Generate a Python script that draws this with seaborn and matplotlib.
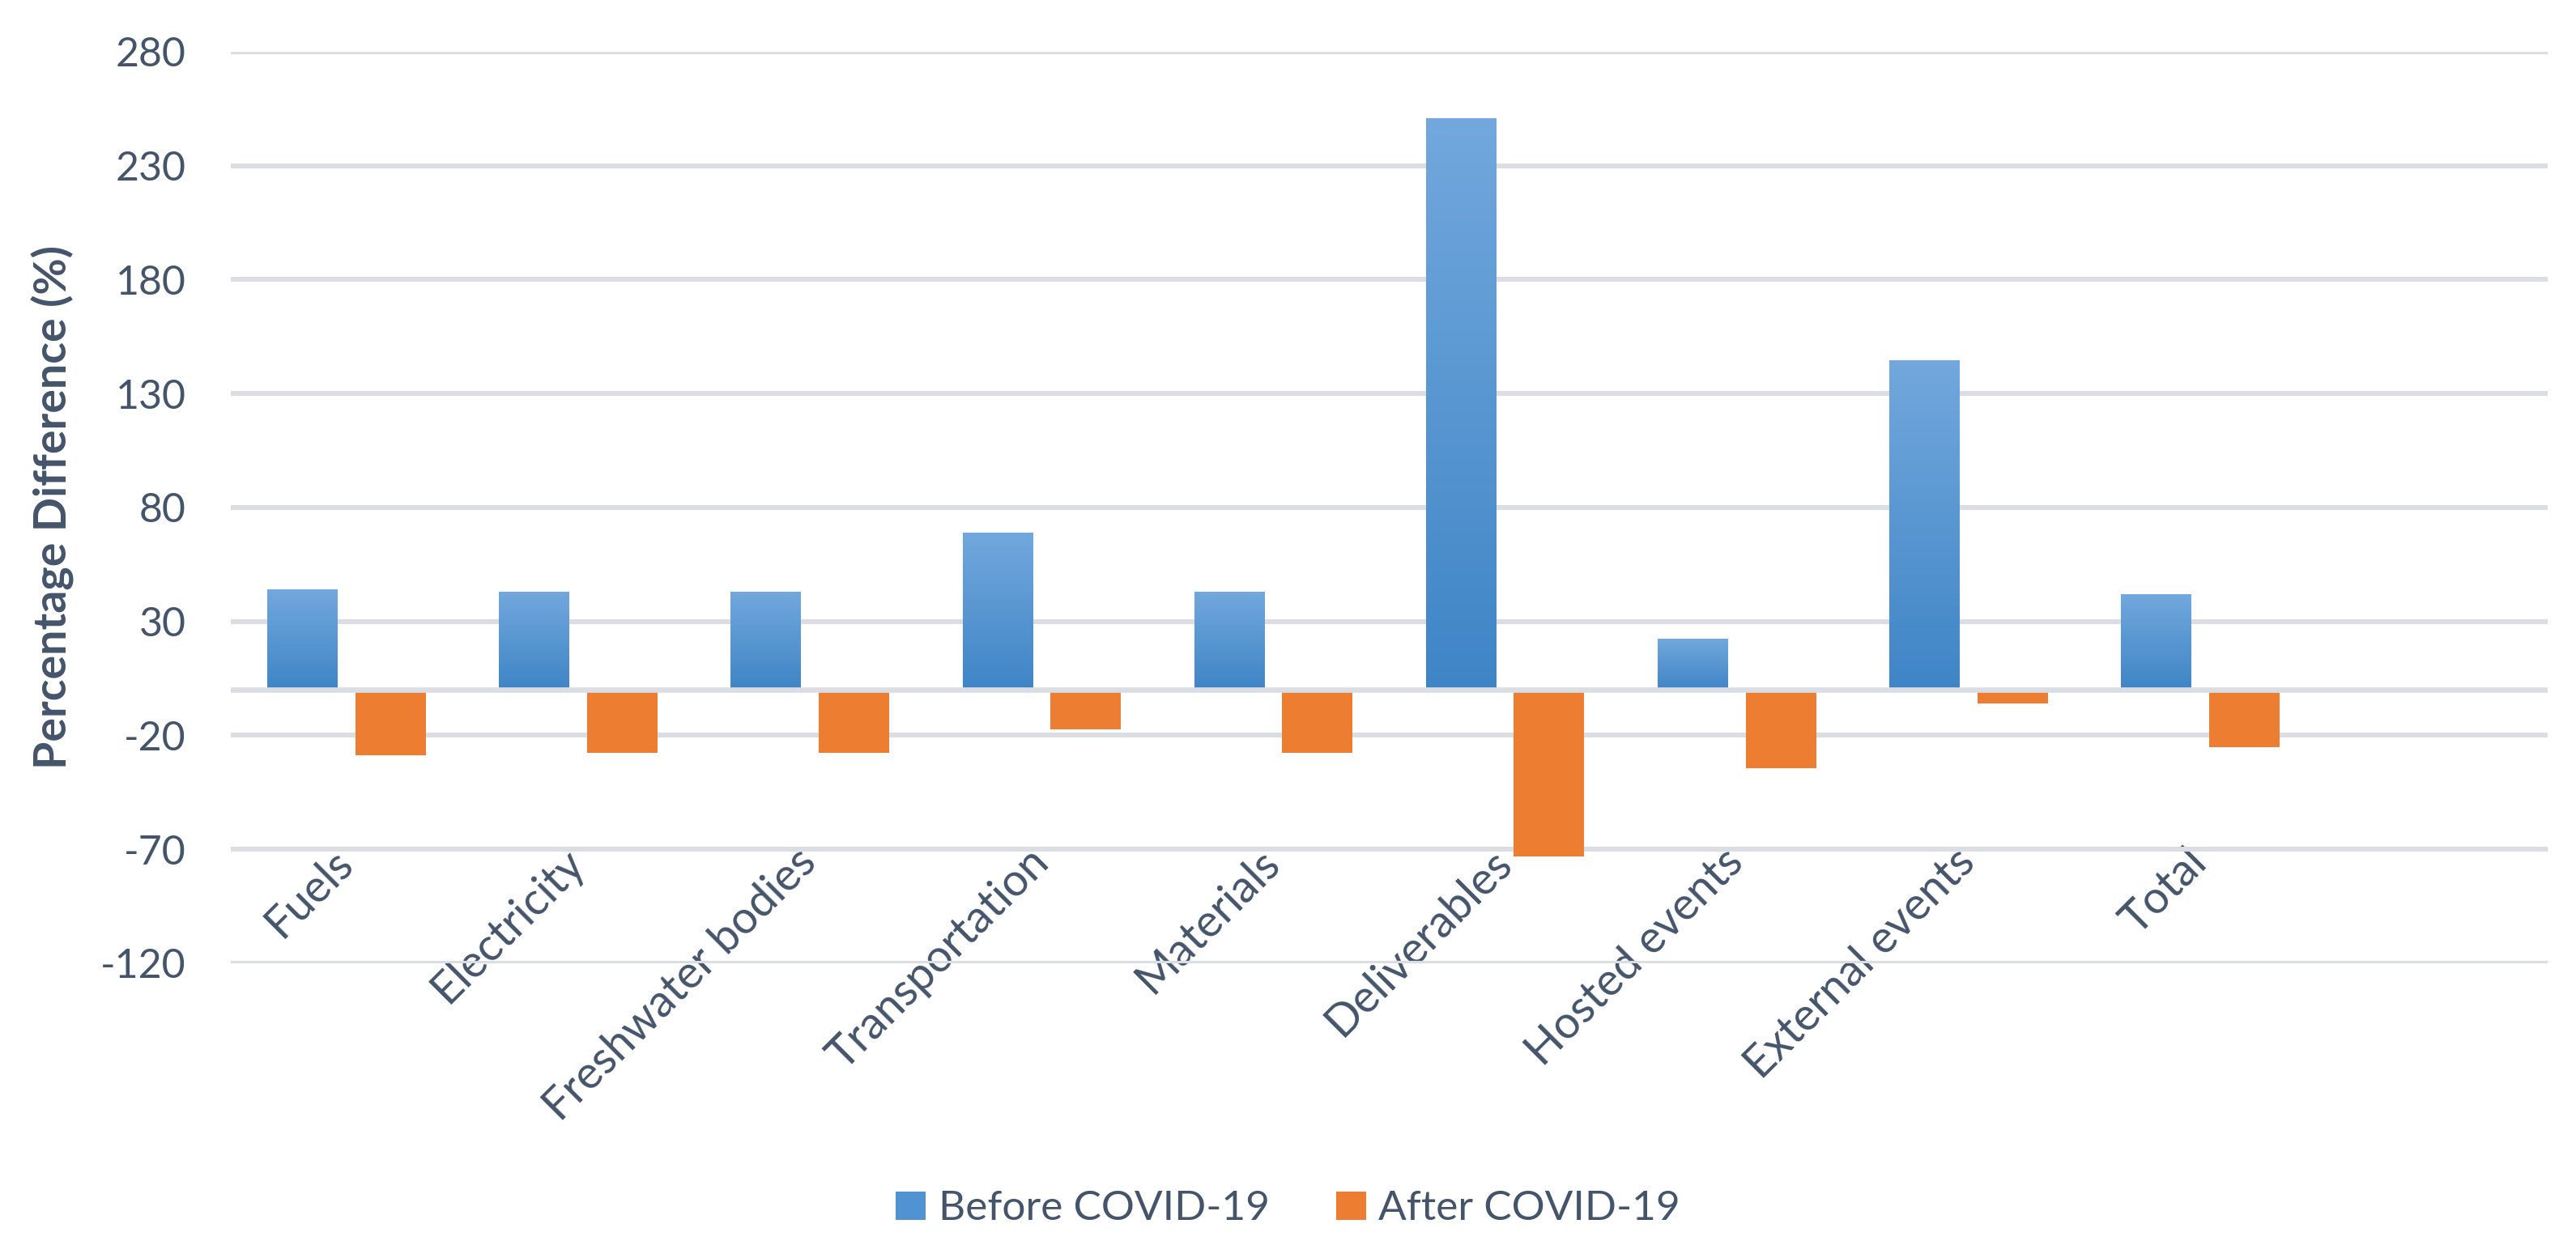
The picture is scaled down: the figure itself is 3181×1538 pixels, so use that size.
import matplotlib
matplotlib.use("Agg")
import matplotlib.pyplot as plt
import seaborn as sns
import numpy as np
import pandas as pd
from matplotlib.colors import LinearSegmentedColormap

categories = ["Fuels", "Electricity", "Freshwater bodies", "Transportation", "Materials",
              "Deliverables", "Hosted events", "External events", "Total"]
before_covid = [44, 43, 43, 69, 43, 251, 22.5, 144.5, 42]
after_covid = [-28.6, -27.6, -27.6, -17.3, -27.6, -73, -34.4, -5.9, -25.2]
series_names = ["Before COVID-19", "After COVID-19"]
y_ticks = [-120, -70, -20, 30, 80, 130, 180, 230, 280]

df = pd.DataFrame({
    "Category": categories * 2,
    "Value": before_covid + after_covid,
    "Period": [series_names[0]] * len(categories) + [series_names[1]] * len(categories),
})

BLUE = "#4F93D3"
BLUE_TOP = "#72A8DD"
BLUE_BOT = "#3F85C6"
ORANGE = "#ED7D31"
TEXT = "#44546A"
GRID = "#DADEE4"

sns.set_theme(style="white")
plt.rcParams["font.family"] = ["Lato", "DejaVu Sans"]

fig = plt.figure(figsize=(15.905, 7.69), dpi=200)
ax = fig.add_axes([0.0896, 0.2263, 0.8994, 0.7321])

sns.barplot(data=df, x="Category", y="Value", hue="Period", order=categories,
            hue_order=series_names, palette=[BLUE, ORANGE], width=0.76, gap=0.2,
            errorbar=None, ax=ax, saturation=1, linewidth=0, zorder=3)

# gradient fill for the blue bars
grad = np.linspace(0, 1, 256).reshape(-1, 1)
cmap = LinearSegmentedColormap.from_list("bg", [BLUE_TOP, BLUE_BOT])
for p in ax.containers[0]:
    x0, y0 = p.get_x(), p.get_y()
    w, h = p.get_width(), p.get_height()
    im = ax.imshow(grad, extent=[x0, x0 + w, y0, y0 + h], aspect="auto", cmap=cmap,
                   origin="upper" if h >= 0 else "lower", zorder=3.5, interpolation="bilinear")
    im.set_clip_path(p)

ax.set_xlim(-0.5, 9.5)
ax.set_ylim(-120, 280)
ax.set_yticks(y_ticks)
ax.set_yticklabels([str(t) for t in y_ticks])
ax.yaxis.grid(True, color=GRID, linewidth=2.2, zorder=0)
ax.set_axisbelow(True)
ax.axhline(0, color=GRID, linewidth=2.4, zorder=5)

for s in ["top", "right", "left"]:
    ax.spines[s].set_visible(False)
ax.spines["bottom"].set_position(("data", -70))
ax.spines["bottom"].set_color("none")

ax.tick_params(axis="y", length=0, pad=20, labelsize=18, labelcolor=TEXT)
ax.tick_params(axis="x", length=0, pad=3, labelsize=20, labelcolor=TEXT)
ax.set_xticks(range(len(categories)))
ax.set_xticklabels(categories, rotation=45, ha="right", va="center", rotation_mode="anchor")

ax.set_xlabel("")
ax.set_ylabel("Percentage Difference (%)", fontsize=20, fontweight="bold", color=TEXT)
ax.yaxis.set_label_coords(-0.0675, 0.5)

leg = ax.get_legend()
if leg is not None:
    leg.remove()
handles = [plt.Rectangle((0, 0), 1, 1, facecolor=BLUE, edgecolor="none"),
           plt.Rectangle((0, 0), 1, 1, facecolor=ORANGE, edgecolor="none")]
fig.legend(handles, series_names, loc="center", bbox_to_anchor=(0.5, 0.029), ncol=2,
           frameon=False, fontsize=18.5, handlelength=0.72, handleheight=0.66,
           handletextpad=0.3, columnspacing=1.6, labelcolor=TEXT)

fig.savefig("out.png", dpi=200, facecolor="white")
